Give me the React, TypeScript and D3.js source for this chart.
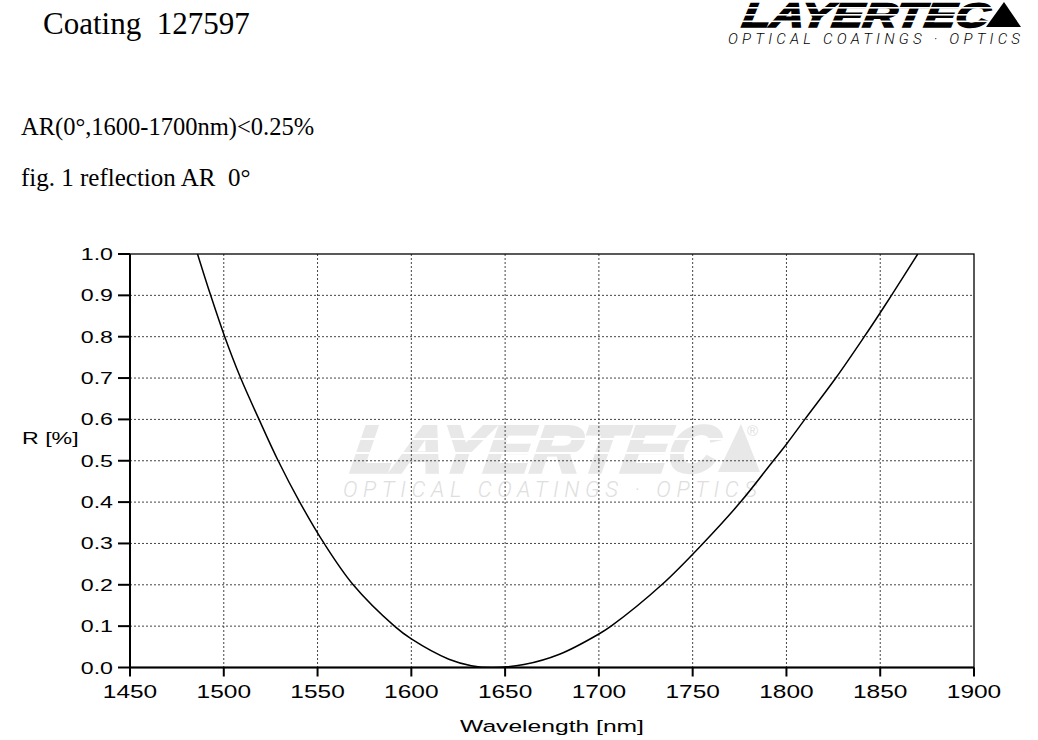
// D3.js — LAYERTEC coating 127597, reflection AR 0°
import React from "react";
import * as d3 from "d3";

// wavelength [nm] and reflectance R [%]
const wavelengths = [1486, 1493, 1500.5, 1509, 1518.8, 1529, 1540.5, 1553.5, 1569, 1591, 1600, 1620, 1632, 1643, 1660, 1679, 1700, 1706.5, 1733.5, 1755.5, 1775.5, 1793, 1800, 1809.8, 1826.3, 1841.5, 1850, 1856, 1870];
const reflectance = [1.0, 0.9, 0.8, 0.7, 0.6, 0.5, 0.4, 0.3, 0.2, 0.1, 0.069, 0.02, 0.0045, 0.0, 0.007, 0.032, 0.081, 0.1, 0.2, 0.3, 0.4, 0.5, 0.54, 0.6, 0.7, 0.8, 0.858, 0.9, 1.0];

const xTicks = [1450, 1500, 1550, 1600, 1650, 1700, 1750, 1800, 1850, 1900];
const yTicks = [0, 0.1, 0.2, 0.3, 0.4, 0.5, 0.6, 0.7, 0.8, 0.9, 1.0];

const W = 1038, H = 740;
const plot = { left: 130, right: 974, top: 254, bottom: 667.5 };

const sans = "'Liberation Sans', Arial, sans-serif";
const serif = "'Liberation Serif', 'Times New Roman', serif";
const thin = "'Roboto', 'Liberation Sans', sans-serif";

const Logo: React.FC<{ x: number; baseline: number; width: number; size: number; fill: string; stripes: number[]; stripeH: number }> =
  ({ x, baseline, width, size, fill, stripes, stripeH }) => (
    <g>
      <text x={x} y={baseline} fontFamily={sans} fontWeight={900} fontStyle="italic" fontSize={size}
        textLength={width} lengthAdjust="spacingAndGlyphs" fill={fill} stroke={fill} strokeWidth={size * 0.05}
        transform={`skewX(-8) translate(${baseline * Math.tan(8 * Math.PI / 180)},0)`}>LAYERTEC</text>
      {stripes.map(s => (
        <rect key={s} x={x - 10} y={s} width={width + 20} height={stripeH} fill="#fff" />
      ))}
    </g>
  );

const App: React.FC = () => {
  const x = d3.scaleLinear().domain([1450, 1900]).range([plot.left, plot.right]);
  const y = d3.scaleLinear().domain([0, 1]).range([plot.bottom, plot.top]);

  const line = d3.line<number>()
    .x((_, i) => x(wavelengths[i]))
    .y(d => y(d))
    .curve(d3.curveCatmullRom.alpha(0.5));

  const fmt = d3.format(".1f");

  return (
    <div style={{ position: "absolute", left: 0, top: 0 }}>
      <svg width={W} height={H} style={{ display: "block", background: "#fff" }}>
        <defs>
          <clipPath id="plotClip">
            <rect x={plot.left} y={plot.top} width={plot.right - plot.left} height={plot.bottom - plot.top} />
          </clipPath>
        </defs>

        {/* header */}
        <text x={43} y={34} fontFamily={serif} fontSize={31} style={{ whiteSpace: "pre" }}>Coating  127597</text>
        <text x={21} y={135} fontFamily={serif} fontSize={24.5}>AR(0°,1600-1700nm)&lt;0.25%</text>
        <text x={21} y={186} fontFamily={serif} fontSize={25} style={{ whiteSpace: "pre" }}>fig. 1 reflection AR  0°</text>

        {/* header logo */}
        <Logo x={741} baseline={27} width={247} size={34} fill="#000" stripes={[7, 14, 20.5]} stripeH={1.6} />
        <polygon points="986,27 1021,27 1004,2" fill="#000" />
        <text x={728} y={44} fontFamily={thin} fontWeight={300} fontStyle="italic" fontSize={15}
          textLength={292} lengthAdjust="spacing" style={{ whiteSpace: "pre" }}>OPTICAL COATINGS · OPTICS</text>

        {/* watermark */}
        <g>
          <Logo x={350} baseline={472} width={366} size={66} fill="#e8e8e8" stripes={[438, 452]} stripeH={2} />
          <polygon points="718,472 760,472 741,424" fill="#e8e8e8" />
          <text x={747} y={436} fontFamily={sans} fontSize={15} fill="#e0e0e0">®</text>
          <text x={343} y={497} fontFamily={thin} fontWeight={300} fontStyle="italic" fontSize={22} fill="#dedede"
            textLength={414} lengthAdjust="spacing" style={{ whiteSpace: "pre" }}>OPTICAL COATINGS · OPTICS</text>
        </g>

        {/* grid */}
        <g stroke="#444" strokeWidth={1} strokeDasharray="2 2">
          {yTicks.slice(1, -1).map(t => (
            <line key={t} x1={plot.left} x2={plot.right} y1={y(t)} y2={y(t)} />
          ))}
          {xTicks.slice(1, -1).map(t => (
            <line key={t} x1={x(t)} x2={x(t)} y1={plot.top} y2={plot.bottom} />
          ))}
        </g>

        {/* curve */}
        <path d={line(reflectance) ?? ""} fill="none" stroke="#000" strokeWidth={1.5} clipPath="url(#plotClip)" />

        {/* frame */}
        <rect x={plot.left} y={plot.top} width={plot.right - plot.left} height={plot.bottom - plot.top}
          fill="none" stroke="#000" strokeWidth={1.3} />
        <line x1={plot.left} x2={plot.left} y1={plot.top} y2={plot.bottom} stroke="#000" strokeWidth={2} />
        <line x1={plot.left} x2={plot.right} y1={plot.bottom} y2={plot.bottom} stroke="#000" strokeWidth={2} />

        {/* y axis */}
        {yTicks.map(t => (
          <g key={t}>
            <line x1={plot.left - 12} x2={plot.left} y1={y(t)} y2={y(t)} stroke="#000" strokeWidth={2} />
            <text transform={`translate(113,${y(t) + 6}) scale(1.45,1)`} textAnchor="end"
              fontFamily={sans} fontSize={16}>{fmt(t)}</text>
          </g>
        ))}
        <text transform="translate(22,444) scale(1.45,1)" fontFamily={sans} fontSize={16}>R [%]</text>

        {/* x axis */}
        {xTicks.map(t => (
          <g key={t}>
            <line x1={x(t)} x2={x(t)} y1={plot.bottom} y2={plot.bottom + 9} stroke="#000" strokeWidth={2} />
            <text transform={`translate(${x(t)},698) scale(1.4,1)`} textAnchor="middle"
              fontFamily={sans} fontSize={17.5}>{t}</text>
          </g>
        ))}
        <text transform="translate(552,732) scale(1.45,1)" textAnchor="middle" fontFamily={sans} fontSize={17}>Wavelength [nm]</text>
      </svg>
    </div>
  );
};

export default App;
